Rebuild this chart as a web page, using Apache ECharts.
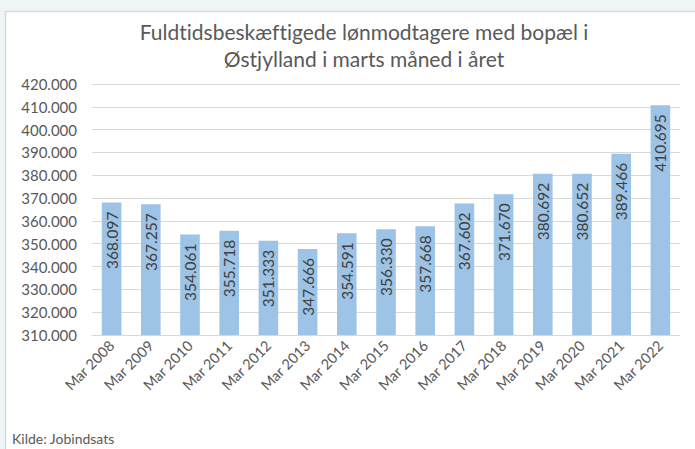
<!DOCTYPE html>
<html>
<head>
<meta charset="utf-8">
<script src="https://cdn.jsdelivr.net/npm/echarts@6/dist/echarts.min.js"></script>
<style>
html,body{margin:0;padding:0;background:#eef5f6;}
#c{width:695px;height:449px;font-variant-ligatures:none;}
#c text{font-variant-ligatures:none;}
</style>
</head>
<body>
<div id="c"></div>
<script>
const categories = ["Mar 2008","Mar 2009","Mar 2010","Mar 2011","Mar 2012","Mar 2013","Mar 2014","Mar 2015","Mar 2016","Mar 2017","Mar 2018","Mar 2019","Mar 2020","Mar 2021","Mar 2022"];
const values = [368097,367257,354061,355718,351333,347666,354591,356330,357668,367602,371670,380692,380652,389466,410695];
const titleLines = ["Fuldtidsbeskæftigede lønmodtagere med bopæl i","Østjylland i marts måned i året"];
const sourceText = "Kilde: Jobindsats";
const yMin = 310000, yMax = 420000, yStep = 10000;

function fmt(v){
  return String(Math.round(v)).replace(/\B(?=(\d{3})+(?!\d))/g, ".");
}
const FONT = "Lato";
const chart = echarts.init(document.getElementById('c'), null, {renderer:'svg'});
chart.setOption({
  backgroundColor: '#eef5f6',
  animation: false,
  graphic: [
    {type:'rect', shape:{x:5.5,y:11.5,width:700,height:450}, style:{fill:'#ffffff', stroke:'#d9d9d9', lineWidth:1.5}, z:-10},
    {type:'text', x:364, y:18, style:{text:titleLines.join('\n'), fontFamily:FONT, fontSize:21, lineHeight:27, fill:'#595959', align:'center', verticalAlign:'top'}},
    {type:'text', x:12, y:431, style:{text:sourceText, fontFamily:FONT, fontSize:14, fill:'#595959', align:'left', verticalAlign:'top'}}
  ],
  grid: {left:92, right:15, top:84, bottom:114, containLabel:false},
  xAxis: {
    type:'category', data:categories,
    axisLine:{lineStyle:{color:'#d9d9d9', width:1}},
    axisTick:{show:false},
    axisLabel:{rotate:45, color:'#595959', fontFamily:FONT, fontSize:14.5, margin:8, interval:0}
  },
  yAxis: {
    type:'value', min:yMin, max:yMax, interval:yStep,
    axisLine:{show:false}, axisTick:{show:false},
    splitLine:{lineStyle:{color:'#d9d9d9', width:1}},
    axisLabel:{color:'#595959', fontFamily:FONT, fontSize:15, margin:15, formatter:fmt}
  },
  series: [{
    type:'bar', data:values, barCategoryGap:'50%',
    itemStyle:{color:'#9dc3e6'},
    label:{show:true, position:'insideTop', rotate:90, align:'right', verticalAlign:'middle', distance:9,
      color:'#404040', fontFamily:FONT, fontSize:15.5, formatter:p=>fmt(p.value)}
  }]
});
</script>
</body>
</html>
